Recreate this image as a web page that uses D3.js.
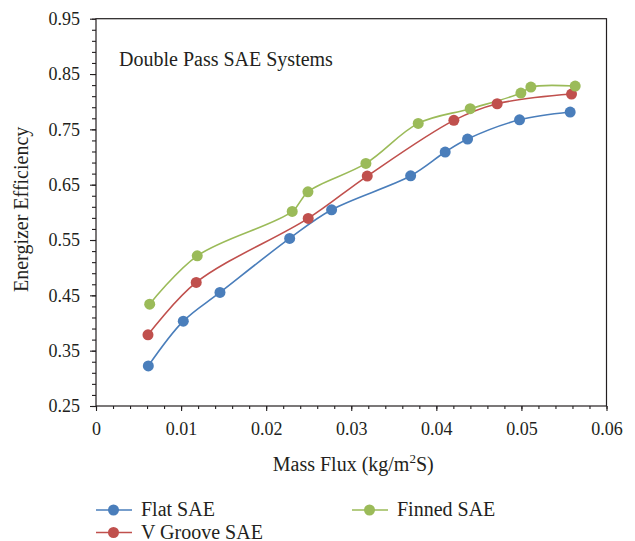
<!DOCTYPE html>
<html>
<head>
<meta charset="utf-8">
<script src="https://cdn.jsdelivr.net/npm/d3@7"></script>
<style>
  html, body { margin: 0; padding: 0; background: #fff; }
</style>
</head>
<body>
<svg id="chart" width="635" height="541"></svg>
<script>
// ---- Data ----
const flatX   = [0.00615, 0.01026, 0.01457, 0.02276, 0.02769, 0.03698, 0.04104, 0.04367, 0.04978, 0.05573];
const flatY   = [0.3225, 0.4033, 0.4552, 0.5529, 0.6046, 0.6661, 0.7090, 0.7325, 0.7672, 0.7813];
const vgrooveX = [0.00611, 0.01178, 0.02494, 0.03188, 0.04206, 0.04715, 0.05589];
const vgrooveY = [0.3786, 0.4733, 0.5891, 0.6656, 0.7663, 0.7963, 0.8138];
const finnedX = [0.00631, 0.0119, 0.02306, 0.02491, 0.03172, 0.03787, 0.04398, 0.04994, 0.05111, 0.05632];
const finnedY = [0.4341, 0.5214, 0.6017, 0.6372, 0.6885, 0.7608, 0.7873, 0.8156, 0.8265, 0.8283];

const seriesNames = ["Flat SAE", "V Groove SAE", "Finned SAE"];
const xTicks = [0, 0.01, 0.02, 0.03, 0.04, 0.05, 0.06];
const yTicks = [0.25, 0.35, 0.45, 0.55, 0.65, 0.75, 0.85, 0.95];
const title = "Double Pass SAE Systems";
const xLabel = "Mass Flux (kg/m";
const yLabel = "Energizer Efficiency";

const colors = ["#4a7ebb", "#c0504d", "#9bbb59"];
const FONT = "'Liberation Serif', 'Times New Roman', serif";
const INK = "#231f20";

// ---- Layout ----
const svg = d3.select("#chart").attr("font-family", FONT);
const L = 96, R = 606.5, T = 18.7, B = 406;
const x = d3.scaleLinear().domain([0, 0.06]).range([L, R]);
const y = d3.scaleLinear().domain([0.25, 0.95]).range([B, T]);

// plot frame
svg.append("rect").attr("x", L).attr("y", T).attr("width", R - L).attr("height", B - T)
  .attr("fill", "none").attr("stroke", INK).attr("stroke-width", 1.2);

// minor ticks
const yMinor = d3.range(0.25, 0.951, 0.02);
const xMinor = d3.range(0, 0.0601, 0.002);
const yAxisG = svg.append("g").attr("transform", `translate(${L},0)`)
  .call(d3.axisLeft(y).tickValues(yMinor).tickSize(4).tickFormat(""));
const xAxisG = svg.append("g").attr("transform", `translate(0,${B})`)
  .call(d3.axisBottom(x).tickValues(xMinor).tickSize(3).tickFormat(""));
[yAxisG, xAxisG].forEach(g => {
  g.select(".domain").remove();
  g.selectAll("line").attr("stroke", INK).attr("stroke-width", 1.1);
});

// major ticks with labels
const yMajor = svg.append("g").attr("transform", `translate(${L},0)`)
  .call(d3.axisLeft(y).tickValues(yTicks).tickSize(6).tickPadding(10).tickFormat(d3.format(".2f")));
const xMajor = svg.append("g").attr("transform", `translate(0,${B})`)
  .call(d3.axisBottom(x).tickValues(xTicks).tickSize(5).tickPadding(11).tickFormat(d => d === 0 ? "0" : d3.format(".2f")(d)));
[yMajor, xMajor].forEach(g => {
  g.attr("font-family", FONT).attr("font-size", 18);
  g.select(".domain").remove();
  g.selectAll("line").attr("stroke", INK).attr("stroke-width", 1.1);
  g.selectAll("text").attr("fill", INK);
});

// series
const data = [
  flatX.map((v, i) => [v, flatY[i]]),
  vgrooveX.map((v, i) => [v, vgrooveY[i]]),
  finnedX.map((v, i) => [v, finnedY[i]])
];
const line = d3.line().x(d => x(d[0])).y(d => y(d[1])).curve(d3.curveCatmullRom.alpha(0.5));

data.forEach((pts, k) => {
  svg.append("path").attr("d", line(pts)).attr("fill", "none")
    .attr("stroke", colors[k]).attr("stroke-width", 1.6);
});
data.forEach((pts, k) => {
  svg.append("g").selectAll("circle").data(pts).join("circle")
    .attr("cx", d => x(d[0])).attr("cy", d => y(d[1])).attr("r", 5.5)
    .attr("fill", colors[k]);
});

// title inside plot
svg.append("text").attr("x", 119).attr("y", 66).attr("font-size", 20).attr("fill", INK).text(title);

// axis labels
const xl = svg.append("text").attr("x", (L + R) / 2 + 2).attr("y", 471)
  .attr("text-anchor", "middle").attr("font-size", 20).attr("fill", INK);
xl.append("tspan").text(xLabel);
xl.append("tspan").attr("dy", -8).attr("font-size", 13).text("2");
xl.append("tspan").attr("dy", 8).text("S)");

svg.append("text").attr("transform", `translate(28,${(T + B) / 2 - 3}) rotate(-90)`)
  .attr("text-anchor", "middle").attr("font-size", 20).attr("fill", INK).text(yLabel);

// legend
const legendPos = [[96, 510], [96, 532.5], [352, 510]];
seriesNames.forEach((name, k) => {
  const [lx, ly] = legendPos[k];
  const g = svg.append("g");
  g.append("line").attr("x1", lx).attr("x2", lx + 36).attr("y1", ly).attr("y2", ly)
    .attr("stroke", colors[k]).attr("stroke-width", 1.6);
  g.append("circle").attr("cx", lx + 17.5).attr("cy", ly).attr("r", 5.5).attr("fill", colors[k]);
  g.append("text").attr("x", lx + 45).attr("y", ly + 6).attr("font-size", 20).attr("fill", INK).text(name);
});
</script>
</body>
</html>
